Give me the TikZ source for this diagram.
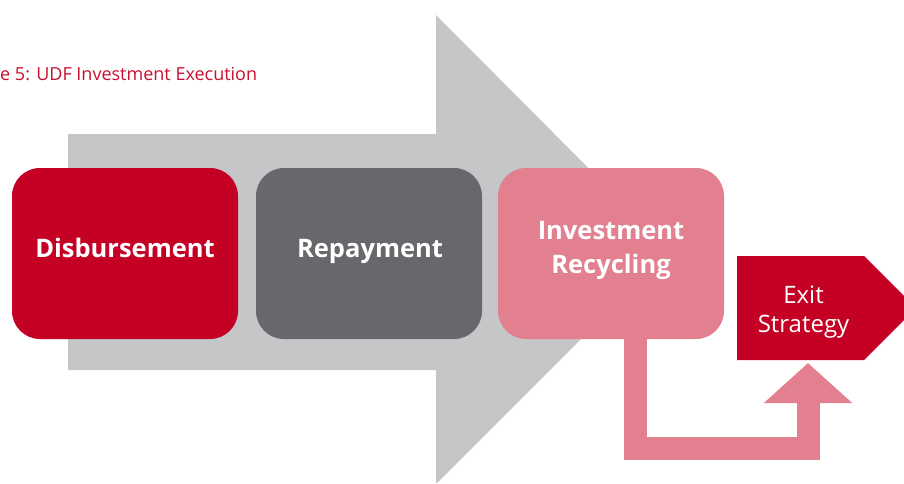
\documentclass[tikz,border=0pt]{standalone}
\usepackage{fontspec}
\setmainfont{Open Sans}
\usetikzlibrary{arrows.meta,calc}
\definecolor{udfred}{RGB}{196,0,36}
\definecolor{titlered}{RGB}{200,16,46}
\definecolor{udfdark}{RGB}{104,104,108}
\definecolor{udfpink}{RGB}{226,128,144}
\definecolor{udfgray}{RGB}{197,198,200}
\tikzset{
  stagebox/.style={rounded corners=28pt, minimum width=226pt, minimum height=171pt, inner sep=0pt},
  stagetext/.style={text=white, font=\bfseries\fontsize{25.5}{34}\selectfont, align=center, inner sep=0pt},
  exittext/.style={text=white, font=\fontsize{24}{29}\selectfont, align=center, inner sep=0pt},
}
\begin{document}
\begin{tikzpicture}[x=1pt,y=-1pt]
\useasboundingbox (0,0) rectangle (904,483);
% title
\node[anchor=base west, inner sep=0pt, text=titlered, font=\fontsize{18}{21}\selectfont] (title) at (0,80) {e 5: UDF Investment Execution};
% big grey arrow
\fill[udfgray] (68,134) -- (436,134) -- (436,15) -- (670,250) -- (437,483) -- (436,483) -- (436,370) -- (68,370) -- cycle;
% stage boxes
\node[stagebox, fill=udfred] (dis) at (125,253.5) {};
\node[stagetext, anchor=base] (distext) at ([yshift=-3.5pt]dis.center) {Disbursement};
\node[stagebox, fill=udfdark] (rep) at (369,253.5) {};
\node[stagetext, anchor=base] (reptext) at ([xshift=1pt,yshift=-3.5pt]rep.center) {Repayment};
\node[stagebox, fill=udfpink] (rec) at (611,253.5) {};
\node[stagetext] (rectext) at ([yshift=3pt]rec.center) {Investment\\Recycling};
% exit strategy
\coordinate (exitc) at (800.5,308);
\fill[udfred] ($(exitc)+(-63.5,-52)$) -- ($(exitc)+(63.5,-52)$) -- ($(exitc)+(115.5,0)$) -- ($(exitc)+(63.5,52)$) -- ($(exitc)+(-63.5,52)$) -- cycle;
\node[exittext] (exit) at ([xshift=3pt,yshift=-4pt]exitc) {Exit\\Strategy};
% connector
\coordinate (tip) at ([xshift=7.5pt,yshift=-55pt]exitc);
\draw[udfpink, line width=23pt, line join=miter, -{Triangle[width=86pt,length=40pt]}]
  ([xshift=24pt]rec.south) |- ([yshift=-85pt]tip) -- (tip);
\end{tikzpicture}
\end{document}
